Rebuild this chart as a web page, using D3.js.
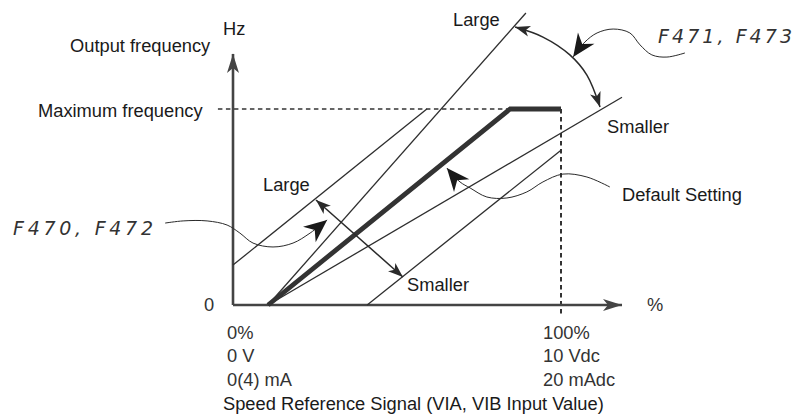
<!DOCTYPE html>
<html>
<head>
<meta charset="utf-8">
<script src="https://cdn.jsdelivr.net/npm/d3@7"></script>
<style>
  html, body { margin: 0; padding: 0; background: #fff; }
  svg { display: block; }
  text { font-family: "Liberation Sans", Arial, sans-serif; font-size: 18.3px; fill: #1a1a1a; }
  .lcd { font-family: "DejaVu Sans", sans-serif; font-style: italic; font-weight: 200; font-size: 19px; fill: #333; }
</style>
</head>
<body>
<svg id="chart" width="802" height="416"></svg>
<script>
// ---------- data (x: % of speed reference signal, y: % of maximum frequency) ----------
const xTickValues = [0, 100];
const xTickLabels = [["0%", "0 V", "0(4) mA"], ["100%", "10 Vdc", "20 mAdc"]];
const xAxisExtent = [0, 118.6];
const yAxisExtent = [0, 128.1];
const maxFrequency = 100;

const defaultSetting = [[10.7, 0], [84.5, 100], [100, 100]];
const gainLarge     = [[10.7, 0], [89.3, 149]];
const gainSmaller   = [[10.7, 0], [118.6, 106]];
const biasLarge     = [[0, 20.4], [59.1, 100]];
const biasSmaller   = [[40.9, 0], [100, 79]];

// annotation arrows (same data units)
const biasArrow = [[25.3, 53.6], [51.8, 14.3]];
const gainArc = [[86.0, 141.8], [94.5, 136.7], [102.7, 127.6], [107.9, 117.3], [111.9, 101.0]];
const pointerF471 = [[137.8, 128.6], [132.3, 126.5], [127.7, 127.6], [124.1, 132.7], [121.0, 138.8],
                     [115.9, 140.8], [111.0, 138.8], [107.3, 134.2], [103.7, 126.5]];
const pointerF470 = [[-20.7, 41.8], [-15.2, 42.9], [-7.9, 42.9], [-1.8, 40.8], [2.1, 36.7], [6.1, 31.6],
                     [12.2, 29.6], [18.3, 31.6], [23.5, 36.7], [28.7, 43.4]];
const pointerDefault = [[114.9, 60.2], [107.9, 65.3], [100.6, 66.8], [94.5, 62.8], [89.6, 57.7],
                        [83.5, 54.6], [77.4, 55.1], [72.3, 59.7], [69.2, 62.8], [65.2, 69.9]];

// ---------- drawing ----------
const svg = d3.select("#chart");
const x = d3.scaleLinear().domain([0, 100]).range([233, 561]);
const y = d3.scaleLinear().domain([0, 100]).range([305, 109]);

const defs = svg.append("defs");
function marker(id, d, w, h, color) {
  defs.append("marker")
    .attr("id", id)
    .attr("markerUnits", "userSpaceOnUse")
    .attr("viewBox", `${-w} ${-h / 2} ${w + 1} ${h}`)
    .attr("refX", 0).attr("refY", 0)
    .attr("markerWidth", w + 1).attr("markerHeight", h)
    .attr("orient", "auto-start-reverse")
    .append("path").attr("d", d).attr("fill", color);
}
marker("axisHead", "M0,0 L-19,-6 L-14,0 L-19,6 Z", 20, 14, "#444");
marker("smallHead", "M0,0 L-15,-5.5 L-11,0 L-15,5.5 Z", 16, 13, "#2a2a2a");
marker("bigHead", "M0,0 L-23,-10 L-16,0 L-23,10 Z", 24, 22, "#1a1a1a");

const line = d3.line().x(d => x(d[0])).y(d => y(d[1]));
const curve = d3.line().x(d => x(d[0])).y(d => y(d[1])).curve(d3.curveCatmullRom.alpha(0.5));

// dashed reference lines
svg.append("path")
  .attr("d", line([[-4.6, maxFrequency], [100, maxFrequency]]))
  .attr("stroke", "#333").attr("stroke-width", 1.5).attr("stroke-dasharray", "4.5,3.5").attr("fill", "none");
svg.append("path")
  .attr("d", line([[100, maxFrequency], [100, -5.1]]))
  .attr("stroke", "#333").attr("stroke-width", 2).attr("stroke-dasharray", "4.5,3.5").attr("fill", "none");

// axes
svg.append("path")
  .attr("d", line([[0, 0], [0, yAxisExtent[1]]]))
  .attr("stroke", "#444").attr("stroke-width", 2.6).attr("fill", "none")
  .attr("marker-end", "url(#axisHead)");
svg.append("path")
  .attr("d", line([[0, 0], [xAxisExtent[1], 0]]))
  .attr("stroke", "#444").attr("stroke-width", 2.6).attr("fill", "none")
  .attr("marker-end", "url(#axisHead)");

// characteristic lines
[gainLarge, gainSmaller, biasLarge, biasSmaller].forEach(d => {
  svg.append("path").attr("d", line(d))
    .attr("stroke", "#2e2e2e").attr("stroke-width", 1.3).attr("fill", "none");
});
svg.append("path").attr("d", line(defaultSetting))
  .attr("stroke", "#333").attr("stroke-width", 4.8).attr("fill", "none")
  .attr("stroke-linejoin", "miter");

// annotation arrows
svg.append("path").attr("d", line(biasArrow))
  .attr("stroke", "#2a2a2a").attr("stroke-width", 1.5).attr("fill", "none")
  .attr("marker-start", "url(#smallHead)").attr("marker-end", "url(#smallHead)");
svg.append("path").attr("d", curve(gainArc))
  .attr("stroke", "#2a2a2a").attr("stroke-width", 1.5).attr("fill", "none")
  .attr("marker-start", "url(#smallHead)").attr("marker-end", "url(#smallHead)");
[pointerF471, pointerF470, pointerDefault].forEach(d => {
  svg.append("path").attr("d", curve(d))
    .attr("stroke", "#2a2a2a").attr("stroke-width", 1).attr("fill", "none")
    .attr("marker-end", "url(#bigHead)");
});

// axis tick labels
xTickValues.forEach((v, i) => {
  const tx = v === 0 ? x(v) - 6 : x(v) - 18;
  xTickLabels[i].forEach((t, j) => {
    svg.append("text").attr("x", tx).attr("y", [339, 362, 385.5][j]).style("fill", "#333").text(t);
  });
});
svg.append("text").attr("x", x(0) - 29).attr("y", y(0) + 6).style("fill", "#333").text("0");
svg.append("text").attr("x", 647).attr("y", 311).style("fill", "#333").text("%");
svg.append("text").attr("x", 223).attr("y", 35).text("Hz");
svg.append("text").attr("x", 70).attr("y", 52).text("Output frequency");
svg.append("text").attr("x", 38).attr("y", 117).text("Maximum frequency");
svg.append("text").attr("x", 223).attr("y", 410).text("Speed Reference Signal (VIA, VIB Input Value)");

// annotation labels
svg.append("text").attr("x", 263).attr("y", 191).text("Large");
svg.append("text").attr("x", 453).attr("y", 26).text("Large");
svg.append("text").attr("x", 607).attr("y", 133).text("Smaller");
svg.append("text").attr("x", 407).attr("y", 291).text("Smaller");
svg.append("text").attr("x", 622).attr("y", 201).text("Default Setting");

svg.append("text").attr("class", "lcd").attr("x", 13).attr("y", 235)
  .attr("textLength", 140).attr("lengthAdjust", "spacing").text("F470, F472");
svg.append("text").attr("class", "lcd").attr("x", 658).attr("y", 43)
  .attr("textLength", 134).attr("lengthAdjust", "spacing").text("F471, F473");
</script>
</body>
</html>
